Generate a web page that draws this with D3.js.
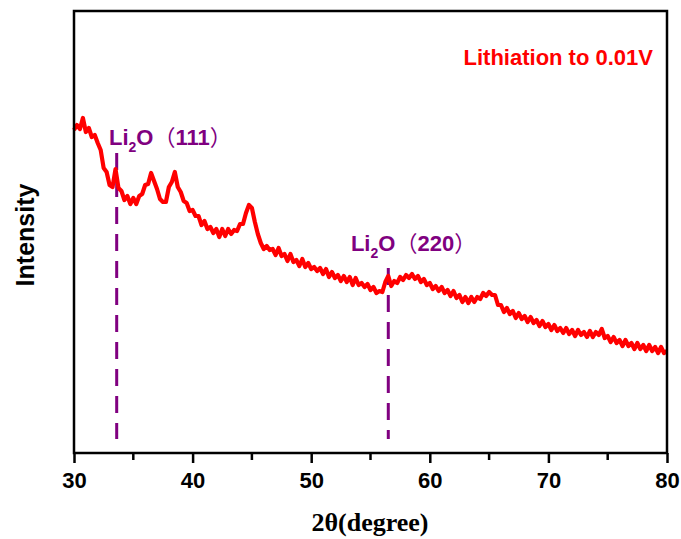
<!DOCTYPE html>
<html><head><meta charset="utf-8">
<script src="https://cdn.jsdelivr.net/npm/d3@7/dist/d3.min.js"></script>
<style>body{margin:0;background:#fff}svg{display:block}</style>
</head><body><div id="chart"></div>
<script>
// 2θ sampling positions (degrees)
const twoTheta = [
30.00,30.25,30.50,30.75,31.00,31.25,31.50,31.75,32.00,32.25,32.50,32.75,33.00,33.25,33.50,33.75,34.00,34.25,34.50,34.75,
35.00,35.25,35.50,35.75,36.00,36.25,36.50,36.75,37.00,37.25,37.50,37.75,38.00,38.25,38.50,38.75,39.00,39.25,39.50,39.75,
40.00,40.25,40.50,40.75,41.00,41.25,41.50,41.75,42.00,42.25,42.50,42.75,43.00,43.25,43.50,43.75,44.00,44.25,44.50,44.75,
45.00,45.25,45.50,45.75,46.00,46.25,46.50,46.75,47.00,47.25,47.50,47.75,48.00,48.25,48.50,48.75,49.00,49.25,49.50,49.75,
50.00,50.25,50.50,50.75,51.00,51.25,51.50,51.75,52.00,52.25,52.50,52.75,53.00,53.25,53.50,53.75,54.00,54.25,54.50,54.75,
55.00,55.25,55.50,55.75,56.00,56.25,56.50,56.75,57.00,57.25,57.50,57.75,58.00,58.25,58.50,58.75,59.00,59.25,59.50,59.75,
60.00,60.25,60.50,60.75,61.00,61.25,61.50,61.75,62.00,62.25,62.50,62.75,63.00,63.25,63.50,63.75,64.00,64.25,64.50,64.75,
65.00,65.25,65.50,65.75,66.00,66.25,66.50,66.75,67.00,67.25,67.50,67.75,68.00,68.25,68.50,68.75,69.00,69.25,69.50,69.75,
70.00,70.25,70.50,70.75,71.00,71.25,71.50,71.75,72.00,72.25,72.50,72.75,73.00,73.25,73.50,73.75,74.00,74.25,74.50,74.75,
75.00,75.25,75.50,75.75,76.00,76.25,76.50,76.75,77.00,77.25,77.50,77.75,78.00,78.25,78.50,78.75,79.00,79.25,79.50,79.75,
80.00];
// Intensity (a.u.)
const intensity = [
323,328,324,335,321,325,316,318,310,303,285,281,268,266,284,265,262,253,257,249,
255,249,257,259,268,269,280,272,264,254,251,251,266,271,281,266,261,252,250,242,
243,237,237,228,232,224,226,220,224,216,224,217,224,219,223,222,229,229,240,248,
245,231,219,210,204,207,203,204,198,205,197,199,192,199,191,193,187,194,186,190,
184,186,182,185,179,184,176,181,175,178,172,177,171,176,168,175,168,170,166,169,
163,166,160,162,161,171,177,167,172,170,176,173,178,175,179,174,177,171,174,168,
170,164,167,162,166,160,163,157,162,155,158,151,156,150,156,151,156,154,160,157,
161,158,158,148,148,141,145,139,142,135,140,134,137,131,136,130,133,127,132,126,
129,123,128,122,125,120,125,119,123,117,123,118,121,116,122,116,121,118,124,115,
117,111,116,110,113,107,113,107,110,104,110,104,108,102,108,102,106,100,106,100,
102];
const xTicks = [30,40,50,60,70,80];
const xMinorTicks = [35,45,55,65,75];
const peakPos = [33.6, 56.5];
const peakHkl = ["111", "220"];
const peakTop = [300, 185];
const labelPos = [32.95, 53.35];
const labelIntensity = [308, 202];
const legendText = "Lithiation to 0.01V";
const xTitle = "2θ(degree)";
const yTitle = "Intensity";

const W = 681, H = 539;
const m = {l:74, r:667, t:11, b:453};
const svg = d3.select("#chart").append("svg").attr("width", W).attr("height", H);
const x = d3.scaleLinear().domain([30,80]).range([m.l, m.r]);
const y = d3.scaleLinear().domain([0,442]).range([m.b, m.t]);

// dashed reference lines
svg.selectAll("line.peak").data(peakPos).enter().append("line")
  .attr("x1", d=>x(d)).attr("x2", d=>x(d))
  .attr("y1", (d,i)=>y(peakTop[i])).attr("y2", y(14))
  .attr("stroke", "#800080").attr("stroke-width", 3)
  .attr("stroke-dasharray", "17,10");

// curve
const pts = twoTheta.map((t,i)=>[t, intensity[i]]);
svg.append("path").datum(pts)
  .attr("d", d3.line().x(d=>x(d[0])).y(d=>y(d[1])))
  .attr("fill","none").attr("stroke","#ff0000").attr("stroke-width",4.2)
  .attr("stroke-linejoin","round");

// peak labels
peakPos.forEach((p,i)=>{
  const t = svg.append("text").attr("x", x(labelPos[i])).attr("y", y(labelIntensity[i]))
    .attr("fill","#800080").attr("font-family","Arial, 'Liberation Sans', sans-serif")
    .attr("font-weight","bold").attr("font-size",22);
  t.append("tspan").text("Li");
  t.append("tspan").attr("font-size",14).attr("dy",7).text("2");
  t.append("tspan").attr("dy",-7).text("O");
  t.append("tspan").attr("font-family","'Noto Sans CJK SC', sans-serif").attr("font-weight","normal").text("（");
  t.append("tspan").text(peakHkl[i]);
  t.append("tspan").attr("font-family","'Noto Sans CJK SC', sans-serif").attr("font-weight","normal").text("）");
});

// frame
svg.append("rect").attr("x", m.l).attr("y", m.t).attr("width", m.r-m.l).attr("height", m.b-m.t)
  .attr("fill","none").attr("stroke","#000").attr("stroke-width",2.5);

// x axis
const ax = svg.append("g").attr("transform", `translate(0,${m.b})`)
  .call(d3.axisBottom(x).tickValues(xTicks).tickSize(10).tickFormat(d3.format("d")));
ax.select(".domain").remove();
ax.selectAll(".tick line").attr("stroke","#000").attr("stroke-width",2.5);
ax.selectAll(".tick text").attr("font-family","Arial, 'Liberation Sans', sans-serif")
  .attr("font-weight","bold").attr("font-size",22).attr("fill","#000").attr("dy","0.95em").attr("y",14);
svg.selectAll("line.minor").data(xMinorTicks).enter().append("line")
  .attr("x1", d=>x(d)).attr("x2", d=>x(d)).attr("y1", m.b).attr("y2", m.b+7)
  .attr("stroke","#000").attr("stroke-width",2.5);

// legend text
svg.append("text").attr("x", 653).attr("y", 65).attr("text-anchor","end")
  .attr("fill","#ff0000").attr("font-family","Arial, 'Liberation Sans', sans-serif")
  .attr("font-weight","bold").attr("font-size",22).text(legendText);

// axis titles
svg.append("text").attr("x", 370).attr("y", 531).attr("text-anchor","middle")
  .attr("font-family","'Times New Roman', 'Liberation Serif', serif").attr("font-weight","bold")
  .attr("font-size",26).attr("fill","#000").text(xTitle);
svg.append("text").attr("transform","translate(34,235) rotate(-90)").attr("text-anchor","middle")
  .attr("font-family","Arial, 'Liberation Sans', sans-serif").attr("font-weight","bold")
  .attr("font-size",25).attr("fill","#000").text(yTitle);
</script></body></html>
